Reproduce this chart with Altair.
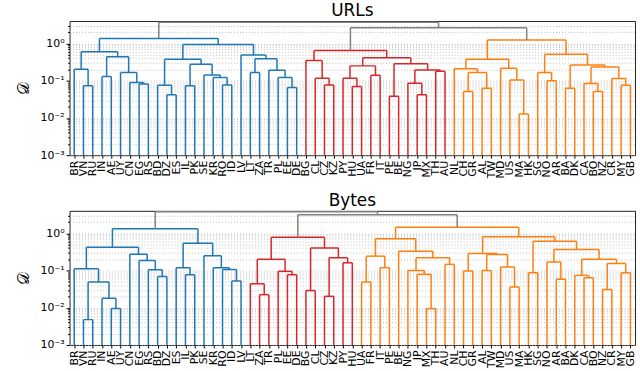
import json
import altair as alt
import pandas as pd

# ---------------- data ----------------
LEAF_LABELS = ["BR", "VN", "RU", "IN", "AE", "UY", "CN", "EG", "RS", "BD", "DZ", "ES", "IL",
               "PK", "SE", "KR", "RO", "ID", "LV", "LT", "ZA", "TR", "PL", "EE", "DE",
               "BG", "CL", "CZ", "KZ", "PY", "HU", "UA", "FR", "IT", "PE", "BE", "NG", "JP",
               "MX", "TH", "AU", "NL", "CH", "GR", "AL", "TW", "MD", "US", "MA", "HK", "SG",
               "NO", "AR", "BA", "DK", "CA", "BO", "NZ", "CR", "MY", "GB"]

# merges: (left child, right child, distance); node ids 61.. follow list order
URLS_MERGES = [
    (1, 2, 0.073), (0, 61, 0.203), (3, 4, 0.129), (7, 8, 0.081), (6, 64, 0.089),
    (5, 65, 0.165), (63, 66, 0.44), (62, 67, 0.60), (10, 11, 0.042), (9, 69, 0.076),
    (12, 13, 0.073), (16, 17, 0.077), (15, 72, 0.121), (14, 73, 0.143), (71, 74, 0.275),
    (70, 75, 0.375), (19, 20, 0.165), (23, 24, 0.066), (22, 78, 0.121), (21, 79, 0.19),
    (77, 80, 0.39), (18, 81, 0.49), (76, 82, 0.94), (68, 83, 1.36),
    (27, 28, 0.077), (26, 85, 0.117), (25, 86, 0.35), (30, 31, 0.070), (29, 88, 0.117),
    (32, 33, 0.14), (89, 90, 0.25), (34, 35, 0.038), (37, 38, 0.042), (36, 93, 0.086),
    (39, 40, 0.178), (94, 95, 0.195), (92, 96, 0.287), (91, 97, 0.415), (87, 98, 0.65),
    (42, 43, 0.051), (44, 45, 0.063), (100, 101, 0.165), (41, 102, 0.21), (48, 49, 0.0128),
    (47, 104, 0.105), (46, 105, 0.215), (103, 106, 0.375), (51, 52, 0.099), (50, 108, 0.165),
    (53, 54, 0.063), (56, 57, 0.051), (55, 111, 0.084), (59, 60, 0.076), (58, 113, 0.114),
    (112, 114, 0.234), (110, 115, 0.264), (109, 116, 0.51), (107, 117, 1.23),
    (99, 118, 2.62), (84, 119, 3.7),
]
URLS_CLUSTERS = ["C0"] * 24 + ["C3"] * 15 + ["C1"] * 19 + ["grey"] * 2

BYTES_MERGES = [
    (1, 2, 0.0048), (4, 5, 0.0095), (3, 62, 0.018), (61, 63, 0.049), (0, 64, 0.111),
    (9, 10, 0.0695), (8, 66, 0.105), (7, 67, 0.186), (6, 68, 0.275), (65, 69, 0.42),
    (12, 13, 0.077), (11, 71, 0.119), (17, 18, 0.052), (16, 73, 0.107), (15, 74, 0.119),
    (14, 75, 0.248), (72, 76, 0.54), (70, 77, 1.33),
    (20, 21, 0.0225), (19, 79, 0.044), (23, 24, 0.077), (22, 81, 0.095), (80, 82, 0.20),
    (25, 26, 0.029), (27, 28, 0.0203), (29, 30, 0.161), (85, 86, 0.22), (84, 87, 0.40),
    (83, 88, 0.78),
    (31, 32, 0.049), (33, 34, 0.119), (90, 91, 0.243), (38, 39, 0.0095), (37, 93, 0.079),
    (36, 94, 0.10), (40, 41, 0.146), (95, 96, 0.22), (35, 97, 0.33), (92, 98, 0.71),
    (42, 43, 0.097), (44, 45, 0.10), (47, 48, 0.036), (46, 102, 0.124), (101, 103, 0.269),
    (100, 104, 0.286), (49, 50, 0.087), (52, 53, 0.058), (51, 107, 0.168), (55, 56, 0.064),
    (54, 109, 0.074), (57, 58, 0.031), (59, 60, 0.087), (111, 112, 0.155), (110, 113, 0.20),
    (108, 114, 0.366), (106, 115, 0.61), (105, 116, 0.81), (99, 117, 1.45),
    (89, 118, 3.15), (78, 119, 3.79),
]
BYTES_CLUSTERS = ["C0"] * 18 + ["C3"] * 11 + ["C1"] * 29 + ["grey"] * 2

CLUSTER_NAMES = ["C0", "C3", "C1", "grey"]
CLUSTER_COLORS = ["#1f77b4", "#d62728", "#ff7f0e", "#808080"]

Y_MIN, Y_MAX = 1e-3, 4.0
MAJORS = [0.001, 0.01, 0.1, 1.0]
Y_TICKS = [k * m for m in MAJORS for k in range(1, 10) if k * m <= 3.5]


def segments(merges, clusters, n):
    pos = {i: float(i) for i in range(n)}
    hgt = {i: Y_MIN for i in range(n)}
    rows = []
    for k, ((a, b, h), c) in enumerate(zip(merges, clusters)):
        xa, xb = pos[a], pos[b]
        rows.append(dict(x=xa, x2=xa, y=hgt[a], y2=h, c=c))
        rows.append(dict(x=xa, x2=xb, y=h, y2=h, c=c))
        rows.append(dict(x=xb, x2=xb, y=hgt[b], y2=h, c=c))
        pos[n + k] = (xa + xb) / 2
        hgt[n + k] = h
    return pd.DataFrame(rows)


n = len(LEAF_LABELS)
label_arr = json.dumps(LEAF_LABELS, ensure_ascii=False)
major_test = "abs(log(datum.value)/LN10 - round(log(datum.value)/LN10)) < 0.001"
y_label_expr = (major_test + " ? ['10⁻³','10⁻²','10⁻¹','10⁰'][round(log(datum.value)/LN10)+3] : ''")


def panel(df, title):
    return alt.Chart(df).mark_rule(strokeWidth=1.5, clip=True).encode(
        x=alt.X("x:Q", scale=alt.Scale(domain=[-0.5, n - 0.5], nice=False, zero=False),
                axis=alt.Axis(values=list(range(n)), labelExpr=label_arr + "[datum.value]",
                              labelAngle=270, labelAlign="right", labelBaseline="middle",
                              labelFontSize=11, labelFont="DejaVu Sans", labelColor="#000",
                              labelOverlap=False, labelFlush=False, labelPadding=2,
                              tickSize=3, tickColor="#000", grid=False, domain=False, title=None)),
        x2="x2:Q",
        y=alt.Y("y:Q", scale=alt.Scale(type="log", domain=[Y_MIN, Y_MAX], nice=False),
                axis=alt.Axis(values=Y_TICKS, labelExpr=y_label_expr,
                              tickSize={"condition": {"test": major_test, "value": 3.5}, "value": 2},
                              tickColor="#000", labelFontSize=11, labelFont="DejaVu Sans",
                              labelColor="#000", labelPadding=2, labelOverlap=False,
                              grid=True, gridColor="#b0b0b0", gridDash=[1, 2], gridWidth=0.8,
                              domain=False, title="𝒟", titleFontSize=16,
                              titleFont="DejaVu Serif", titleFontWeight="normal",
                              titleColor="#000", titlePadding=6,
                              minExtent=32, maxExtent=32)),
        y2="y2:Q",
        color=alt.Color("c:N", scale=alt.Scale(domain=CLUSTER_NAMES, range=CLUSTER_COLORS),
                        legend=None),
    ).properties(
        width=569, height=135,
        title=alt.Title(title, fontSize=17, font="DejaVu Sans", fontWeight="normal",
                        anchor="middle", color="#000", offset=0),
    )


top = panel(segments(URLS_MERGES, URLS_CLUSTERS, n), "URLs")
bottom = panel(segments(BYTES_MERGES, BYTES_CLUSTERS, n), "Bytes")

chart = alt.vconcat(top, bottom, spacing=12).properties(
    padding={"left": 15, "top": 0, "right": 4, "bottom": 0},
    background="white",
).configure_view(stroke="#222", strokeWidth=1)

chart.save("out.html", embed_options={"renderer": "svg", "actions": False})
